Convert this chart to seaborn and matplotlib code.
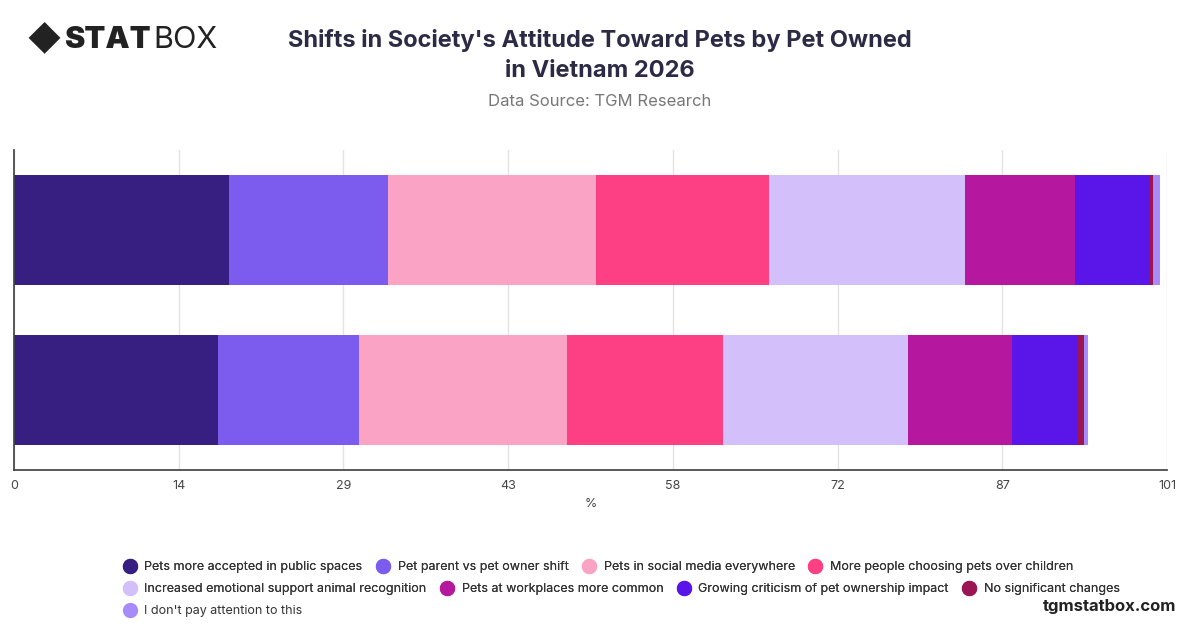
import matplotlib
matplotlib.use("Agg")
import matplotlib.pyplot as plt
import seaborn as sns
import numpy as np
import pandas as pd
from matplotlib.lines import Line2D

sns.set_theme(style="white")
plt.rcParams['font.family'] = ['Inter', 'DejaVu Sans']

rows = ["Owner A", "Owner B"]
series = ["Pets more accepted in public spaces", "Pet parent vs pet owner shift",
          "Pets in social media everywhere", "More people choosing pets over children",
          "Increased emotional support animal recognition", "Pets at workplaces more common",
          "Growing criticism of pet ownership impact", "No significant changes",
          "I don't pay attention to this"]
row1 = [18.8, 14.0, 18.2, 15.1, 17.2, 9.6, 6.5, 0.35, 0.6]
row2 = [17.9, 12.3, 18.2, 13.7, 16.2, 9.1, 5.7, 0.6, 0.35]
colors = ["#361f80", "#7b5cee", "#fba3c4", "#fd3f83", "#d3bff9", "#b5179e",
          "#5a16e8", "#9b1554", "#a78bfa"]
ticks = [0, 14.43, 28.86, 43.29, 57.71, 72.14, 86.57, 101]
tick_labels = ["0", "14", "29", "43", "58", "72", "87", "101"]

fig = plt.figure(figsize=(12, 6.28), dpi=100)
ax = fig.add_axes([14/1200, 1-470/628, (1167-14)/1200, 320/628])

cum1 = np.cumsum(row1)
cum2 = np.cumsum(row2)
for i in reversed(range(len(series))):
    df = pd.DataFrame({"row": rows, "val": [cum1[i], cum2[i]]})
    sns.barplot(data=df, x="val", y="row", orient="h", color=colors[i],
                width=0.69, ax=ax, saturation=1, edgecolor="none", linewidth=0)

ax.set_xlim(0, 101)
ax.set_xticks(ticks)
ax.set_xticklabels(tick_labels, fontsize=9, color="#444")
ax.set_yticks([])
ax.set_ylabel("")
ax.set_xlabel("%", fontsize=9, color="#444")
ax.grid(axis="x", color="#e3e3e3", linewidth=1)
ax.set_axisbelow(True)
for s in ["top", "right"]:
    ax.spines[s].set_visible(False)
ax.spines["left"].set_color("#444")
ax.spines["bottom"].set_color("#444")
ax.tick_params(axis="x", length=4, color="#444")

fig.text(0.5, 1-40/628, "Shifts in Society's Attitude Toward Pets by Pet Owned",
         ha="center", va="center", fontsize=17, fontweight="bold", color="#2d2a45")
fig.text(0.5, 1-71/628, "in Vietnam 2026", ha="center", va="center",
         fontsize=17, fontweight="bold", color="#2d2a45")
fig.text(0.5, 1-101/628, "Data Source: TGM Research", ha="center", va="center",
         fontsize=12, color="#777")
fig.text(26/1200, 1-40/628, "◆", ha="left", va="center", fontsize=24, color="#222")
fig.text(64/1200, 1-40/628, "STAT", ha="left", va="center", fontsize=22,
         fontweight="black", color="#222")
fig.text(153/1200, 1-40/628, "BOX", ha="left", va="center", fontsize=22, color="#222")
fig.text(1176/1200, 1-606/628, "tgmstatbox.com", ha="right", va="center",
         fontsize=12, fontweight="bold", color="#222")

def handle(c):
    return Line2D([], [], marker="o", linestyle="", markersize=10,
                  markerfacecolor=c, markeredgecolor=c)

for r, (start, y) in enumerate([(0, 567), (4, 589), (8, 611)]):
    idx = list(range(start, min(start + 4, len(series))))
    leg = fig.legend([handle(colors[i]) for i in idx], [series[i] for i in idx],
                     loc="center left", bbox_to_anchor=(112/1200, 1-y/628),
                     ncol=4, frameon=False, fontsize=9, handletextpad=0.2,
                     columnspacing=0.6, labelcolor="#333", borderaxespad=0)
    if r < 2:
        fig.add_artist(leg)

fig.savefig("out.png", dpi=100)
